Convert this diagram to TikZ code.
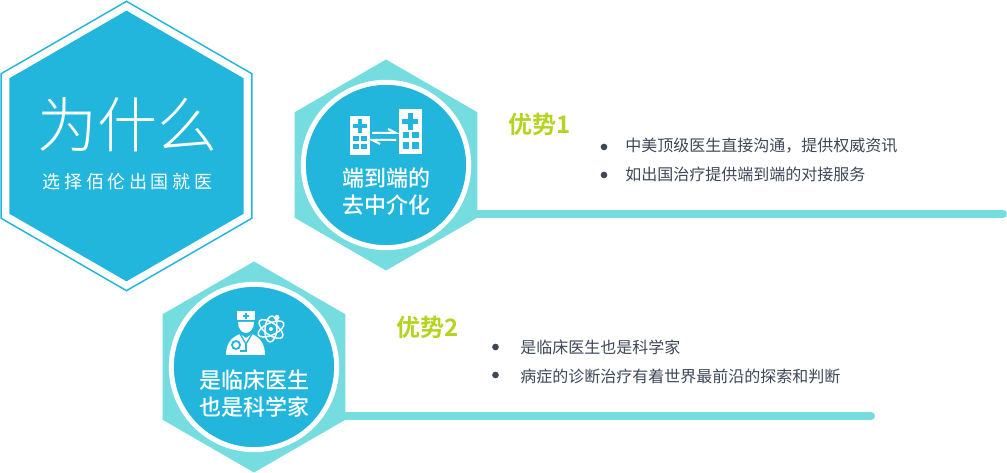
\documentclass[tikz,border=0pt]{standalone}
\usepackage{fontspec}
\usepackage{tikz}
\usetikzlibrary{shapes.geometric}

\setmainfont{Noto Sans CJK SC}
\newfontfamily\thinfont{Noto Sans CJK SC Light}
\newfontfamily\spacedfont[LetterSpace=20]{Noto Sans CJK SC}
\newfontfamily\headfont{Noto Sans CJK SC Bold}
\newfontfamily\midfont{Noto Sans CJK SC Medium}

\definecolor{skyblue}{HTML}{22B6DD}
\definecolor{paleteal}{HTML}{75DCDF}
\definecolor{limegreen}{HTML}{B4D421}
\definecolor{slatetext}{HTML}{3D4757}

\tikzset{
	hexa/.style={regular polygon, regular polygon sides=6, shape border rotate=30, inner sep=0pt, outer sep=0pt},
	disc/.style={circle, fill=skyblue, draw=white, line width=3.75pt, inner sep=0pt, minimum size=124pt},
	barline/.style={paleteal, line width=6pt, line cap=round},
	headtext/.style={text=limegreen, font=\headfont\fontsize{18}{22}\selectfont},
	itemtext/.style={text=slatetext, anchor=west, inner sep=0pt, font=\fontsize{12}{14}\selectfont},
	dot/.style={circle, fill=slatetext, inner sep=0pt, minimum size=5pt},
	disctext/.style={text=white, align=center, inner sep=0pt, font=\midfont\fontsize{16.5}{20.25}\selectfont}
}

\begin{document}
\begin{tikzpicture}[x=0.75pt,y=-0.75pt]
	\useasboundingbox (0,0) rectangle (1007,473);

	% big hexagon
	\node [hexa, draw=skyblue, line width=1.1pt, minimum size=217pt] (h0) at (126.5,146) {};
	\node [hexa, fill=skyblue, minimum size=203pt] (h0in) at (126.5,146) {};
	\node [text=white, inner sep=0pt, font=\thinfont\fontsize{45}{50}\selectfont] (t0) at (127.5,125) {为什么};
	\node [text=white, inner sep=0pt, font=\spacedfont\fontsize{13.5}{16}\selectfont] (t0b) at (127.5,182) {选择佰伦出国就医};

	% hexagons with discs
	\node [hexa, fill=paleteal, minimum size=158.25pt] (h1) at (386,165) {};
	\node [hexa, fill=paleteal, minimum size=158.25pt] (h2) at (254,367) {};
	\node [disc] (c1) at (386,165) {};
	\node [disc] (c2) at (254,367) {};

	% bars
	\coordinate (e1) at (1003,214);
	\coordinate (e2) at (871,416);
	\draw [barline] (h1.east |- e1) -- (e1);
	\draw [barline] (h2.east |- e2) -- (e2);

	% label
	\node [disctext] (t1) at (386,191.5) {端到端的\\去中介化};
	\node [disctext] (t2) at (254,393.5) {是临床医生\\也是科学家};
	\node [headtext] (a1) at (540,124) {优势1};
	\node [headtext] (a2) at (428,327) {优势2};

	% items
	\node [dot] (d11) at (604,147) {};
	\node [dot] (d12) at (604,175) {};
	\node [dot] (d21) at (495.5,347) {};
	\node [dot] (d22) at (495.5,375) {};
	\node [itemtext] (i11) at (625,145.5) {中美顶级医生直接沟通，提供权威资讯};
	\node [itemtext] (i12) at (625,174.5) {如出国治疗提供端到端的对接服务};
	\node [itemtext] (i21) at (520,347) {是临床医生也是科学家};
	\node [itemtext] (i22) at (520,376) {病症的诊断治疗有着世界最前沿的探索和判断};

	% hospital icon
	\fill [white] (350,116) rectangle (369.5,155);
	\fill [white] (399,109) rectangle (421.5,154.5);
	\fill [skyblue] (358,119.5) rectangle (362,133);
	\fill [skyblue] (353,124.5) rectangle (367,128.5);
	\fill [skyblue] (353,136) rectangle (358.5,141);
	\fill [skyblue] (361,136) rectangle (366.5,141);
	\fill [skyblue] (353,144) rectangle (358.5,149.5);
	\fill [skyblue] (361,144) rectangle (366.5,149.5);
	\fill [skyblue] (407.5,113) rectangle (412.5,130);
	\fill [skyblue] (402,119) rectangle (418,124);
	\fill [skyblue] (402.5,132) rectangle (409,138.5);
	\fill [skyblue] (412,132) rectangle (418.5,138.5);
	\fill [skyblue] (402.5,142) rectangle (409,149);
	\fill [skyblue] (412,142) rectangle (418.5,149);
	\draw [white, line width=1.5pt] (372,133) -- (396,133) -- (388,129);
	\draw [white, line width=1.5pt] (396,140) -- (372,140) -- (380,144);

	% doctor icon
	\fill [white] (236.5,311) rectangle (255,320.5);
	\fill [white] (238,322) -- (254,322) .. controls (254,329) and (250,333) .. (246,333) .. controls (242,333) and (238,329) .. (238,322) -- cycle;
	\fill [white] (226,355) .. controls (226,345) and (230,338) .. (240,334) -- (246,338) -- (252,334) .. controls (261,338) and (265,345) .. (265,355) -- cycle;
	\fill [skyblue] (245,313) rectangle (247,319);
	\fill [skyblue] (243,315) rectangle (249,317);
	\draw [skyblue, line width=1pt] (240,334) -- (246,344) -- (252,334);
	\draw [skyblue, line width=1pt] (246,344) -- (246,351) -- (240,351);
	\draw [skyblue, line width=1.4pt] (236,345) circle [radius=4];

	% atom icon
	\draw [white, line width=1.1pt, rotate around={25:(271,329)}] (271,329) ellipse [x radius=14, y radius=6];
	\draw [white, line width=1.1pt, rotate around={-35:(271,329)}] (271,329) ellipse [x radius=14, y radius=6];
	\draw [white, line width=1.1pt, rotate around={85:(271,329)}] (271,329) ellipse [x radius=13, y radius=6];
	\fill [white] (271,329) circle [radius=2];
	\fill [white] (277,317.5) circle [radius=2.5];
\end{tikzpicture}
\end{document}
